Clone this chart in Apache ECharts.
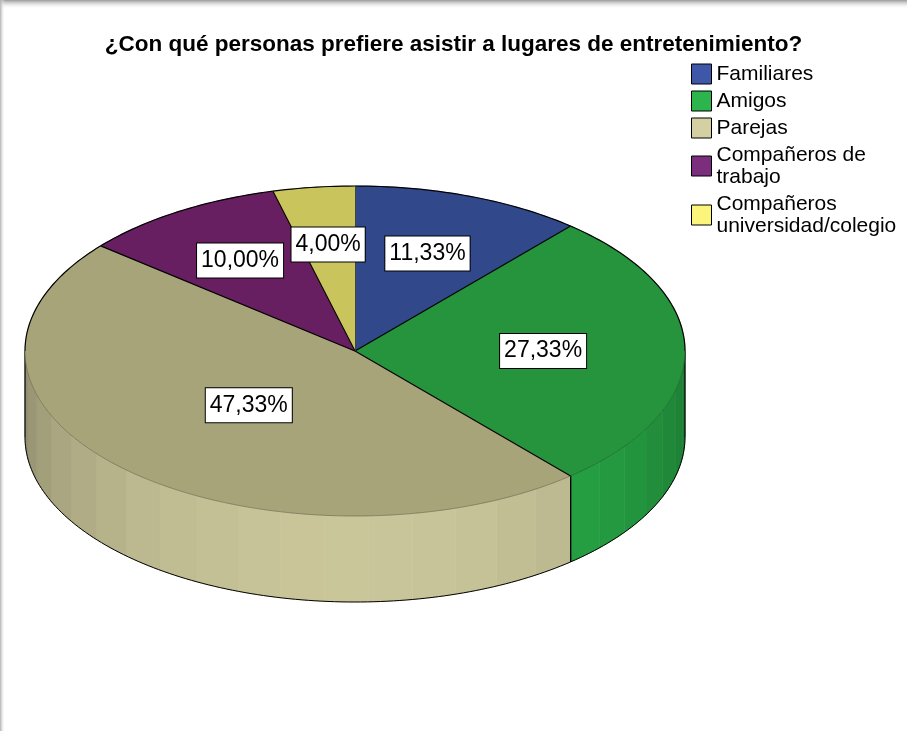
<!DOCTYPE html>
<html>
<head>
<meta charset="utf-8">
<script src="https://cdn.jsdelivr.net/npm/echarts@6/dist/echarts.min.js"></script>
<style>
html, body { margin: 0; padding: 0; background: #fff; }
#main { width: 907px; height: 731px; }
</style>
</head>
<body>
<div id="main"></div>
<script>
var categories = ["Familiares", "Amigos", "Parejas", "Compañeros de trabajo", "Compañeros universidad/colegio"];
var legendLabels = ["Familiares", "Amigos", "Parejas", "Compañeros de\ntrabajo", "Compañeros\nuniversidad/colegio"];
var counts = [34, 82, 142, 30, 12];
var colors = ["#3e57a8", "#2bb54c", "#d4d0a2", "#7b2e7e", "#fbf57b"];
var topColors = ["#31488a", "#26943d", "#a8a479", "#681f61", "#c9c55c"];

var FONT = '"Liberation Sans", Arial, sans-serif';

var total = 0;
for (var i = 0; i < counts.length; i++) total += counts[i];
var startAngles = [];
var endAngles = [];
var acc = 0;
for (var i = 0; i < counts.length; i++) {
    startAngles.push(acc / total * Math.PI * 2);
    acc += counts[i];
    endAngles.push(acc / total * Math.PI * 2);
}

// disco 3D: elipse superior + pared frontal
var cx = 355, cy = 351, rx = 330, ry = 165, depth = 86;
var labelRadius = [0.63, 0.57, 0.46, 0.65, 0.65];

function shade(hex, f) {
    var r = parseInt(hex.substr(1, 2), 16), g = parseInt(hex.substr(3, 2), 16), b = parseInt(hex.substr(5, 2), 16);
    function c(v) { v = Math.round(Math.min(255, v * f)); return (v < 16 ? "0" : "") + v.toString(16); }
    return "#" + c(r) + c(g) + c(b);
}
function px(t, r) { return cx + rx * r * Math.sin(t); }
function py(t, r) { return cy - ry * r * Math.cos(t); }
function arcPoints(a0, a1, dy) {
    var n = Math.max(2, Math.ceil((a1 - a0) / 0.02));
    var pts = [];
    for (var k = 0; k <= n; k++) {
        var t = a0 + (a1 - a0) * k / n;
        pts.push([px(t, 1), py(t, 1) + dy]);
    }
    return pts;
}

function renderWall(params, api) {
    var i = params.dataIndex;
    var a0 = Math.max(startAngles[i], Math.PI / 2);
    var a1 = Math.min(endAngles[i], Math.PI * 1.5);
    var children = [];
    if (a1 <= a0) return { type: "group", children: children };
    var step = 0.14;
    var n = Math.ceil((a1 - a0) / step);
    for (var k = 0; k < n; k++) {
        var t0 = a0 + (a1 - a0) * k / n;
        var t1 = a0 + (a1 - a0) * (k + 1) / n;
        var tm = (t0 + t1) / 2;
        var col = shade(colors[i], 0.67 + 0.28 * (-Math.cos(tm)));
        var pts = arcPoints(t0, t1, 0).concat(arcPoints(t0, t1, depth).reverse());
        children.push({
            type: "polygon",
            shape: { points: pts },
            style: { fill: col, stroke: col, lineWidth: 0.6 }
        });
    }
    children.push({
        type: "polyline",
        shape: { points: arcPoints(a0, a1, depth) },
        style: { stroke: "#000", lineWidth: 1, fill: null }
    });
    var ends = [a0, a1];
    for (var e = 0; e < 2; e++) {
        children.push({
            type: "line",
            shape: { x1: px(ends[e], 1), y1: py(ends[e], 1), x2: px(ends[e], 1), y2: py(ends[e], 1) + depth },
            style: { stroke: "#000", lineWidth: 1.2 }
        });
    }
    return { type: "group", children: children };
}

function renderTop(params, api) {
    var i = params.dataIndex;
    var a0 = startAngles[i], a1 = endAngles[i];
    var col = topColors[i];
    var children = [];
    children.push({
        type: "polygon",
        shape: { points: [[cx, cy]].concat(arcPoints(a0, a1, 0)) },
        style: { fill: col, stroke: col, lineWidth: 0.5 }
    });
    // borde trasero negro, borde frontal suave
    var segs = [[0, Math.PI / 2, "#000", 1.2], [Math.PI / 2, Math.PI * 1.5, "rgba(0,0,0,0.3)", 0.8], [Math.PI * 1.5, Math.PI * 2, "#000", 1.2]];
    for (var s = 0; s < segs.length; s++) {
        var b0 = Math.max(a0, segs[s][0]), b1 = Math.min(a1, segs[s][1]);
        if (b1 > b0) {
            children.push({
                type: "polyline",
                shape: { points: arcPoints(b0, b1, 0) },
                style: { stroke: segs[s][2], lineWidth: segs[s][3], fill: null }
            });
        }
    }
    children.push({
        type: "line",
        shape: { x1: cx, y1: cy, x2: px(a0, 1), y2: py(a0, 1) },
        style: { stroke: "#000", lineWidth: 1.2 }
    });
    var tm = (a0 + a1) / 2;
    var pct = (api.value(0) / total * 100).toFixed(2).replace(".", ",") + "%";
    children.push({
        type: "text",
        x: px(tm, labelRadius[i]),
        y: py(tm, labelRadius[i]),
        z2: 10,
        style: {
            text: pct,
            align: "center",
            verticalAlign: "middle",
            font: "23px " + FONT,
            fill: "#000",
            backgroundColor: "#fff",
            borderColor: "#000",
            borderWidth: 1,
            padding: [6, 4, 5, 4]
        }
    });
    return { type: "group", children: children };
}

var legendData = [];
for (var i = 0; i < categories.length; i++) {
    legendData.push({ name: categories[i], value: counts[i], itemStyle: { color: colors[i] } });
}

var myChart = echarts.init(document.getElementById("main"));
var option = {
    animation: false,
    backgroundColor: "#fff",
    title: {
        text: "¿Con qué personas prefiere asistir a lugares de entretenimiento?",
        left: "center",
        top: 28,
        textStyle: { fontFamily: FONT, fontSize: 22.5, fontWeight: "bold", color: "#000" }
    },
    legend: {
        orient: "vertical",
        left: 691,
        top: 63,
        padding: 0,
        icon: "rect",
        itemWidth: 20,
        itemHeight: 20,
        itemGap: 5,
        itemStyle: { borderColor: "#000", borderWidth: 1 },
        textStyle: { fontFamily: FONT, fontSize: 21, lineHeight: 22, color: "#000" },
        formatter: function (name) { return legendLabels[categories.indexOf(name)]; },
        data: categories
    },
    graphic: [
        {
            type: "rect", left: 0, top: 0, z: 100,
            shape: { width: 907, height: 9 },
            style: { fill: new echarts.graphic.LinearGradient(0, 0, 0, 1, [{ offset: 0, color: "#9a9a9a" }, { offset: 1, color: "rgba(255,255,255,0)" }]) }
        },
        {
            type: "rect", left: 0, top: 0, z: 100,
            shape: { width: 5, height: 731 },
            style: { fill: new echarts.graphic.LinearGradient(0, 0, 1, 0, [{ offset: 0, color: "#b0b0b0" }, { offset: 1, color: "rgba(255,255,255,0)" }]) }
        }
    ],
    series: [
        {
            name: "pared",
            type: "custom",
            coordinateSystem: "none",
            silent: true,
            z: 1,
            renderItem: renderWall,
            data: counts
        },
        {
            name: "superficie",
            type: "custom",
            coordinateSystem: "none",
            silent: true,
            z: 2,
            renderItem: renderTop,
            data: counts
        },
        {
            // solo para la leyenda
            name: "leyenda",
            type: "pie",
            radius: [0, 0],
            center: [-50, -50],
            silent: true,
            label: { show: false },
            labelLine: { show: false },
            data: legendData
        }
    ]
};
myChart.setOption(option, true);
</script>
</body>
</html>
